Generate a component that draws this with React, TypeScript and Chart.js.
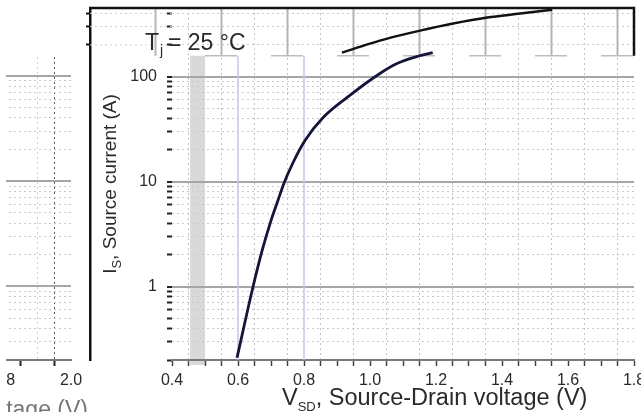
import React, { useEffect, useRef } from "react";
import { Chart, registerables } from "chart.js";
Chart.register(...registerables);

// ---- data ----
const VSD = [0.597, 0.645, 0.673, 0.7, 0.721, 0.739, 0.767, 0.803, 0.858, 0.93, 1.03, 1.082, 1.142, 1.19];
const IS = [0.21, 0.98, 2.2, 4.25, 6.6, 9.6, 15.2, 24.6, 40.7, 63, 107, 133, 155, 169];
const UPPER_V = [0.915, 1.0, 1.052, 1.152, 1.252, 1.355, 1.455, 1.552];
const UPPER_I = [169, 206, 230, 274, 320, 365, 398, 434];

const X_TICK_LABELS = [0.4, 0.6, 0.8, 1.0, 1.2, 1.4, 1.6, 1.8];
const Y_TICK_LABELS = [1, 10, 100];
const Y_GRID = [
  0.2, 0.3, 0.4, 0.5, 0.6, 0.7, 0.8, 0.9,
  1, 2, 3, 4, 5, 6, 7, 8, 9,
  10, 20, 30, 40, 50, 60, 70, 80, 90,
  100, 200, 300, 400,
];
const Y_TOP_TICKS = [200, 300, 400];
const LEFT_X_TICK_LABELS = [1.8, 2.0];
const TOP_GRID_V = [0.35, 0.55, 0.75, 0.95, 1.15, 1.35, 1.55, 1.75];
const BLUE_LINES_V = [0.6, 0.8];
const BAND_V = [0.455, 0.5];
const TOP_BAND_I = 158;

const X_MIN = 0.4, X_MAX = 1.8, Y_MIN = 0.2, Y_MAX = 450;
const FONT = "'Liberation Sans', Arial, sans-serif";
const TEXT = "#2a2a2a";

const isDecade = (v: number) => Math.abs(Math.log10(v) - Math.round(Math.log10(v))) < 1e-9;

const mainDecor = {
  id: "mainDecor",
  beforeDraw(chart: any) {
    const { ctx, chartArea: a, scales } = chart;
    const x = scales.x, y = scales.y;
    ctx.save();
    const bx0 = x.getPixelForValue(BAND_V[0]);
    const bx1 = x.getPixelForValue(BAND_V[1]);
    const by0 = y.getPixelForValue(TOP_BAND_I);
    ctx.fillStyle = "#d9d9d9";
    ctx.fillRect(bx0, by0, bx1 - bx0, a.bottom + 5 - by0);
    ctx.restore();
  },
  beforeDatasetsDraw(chart: any) {
    const { ctx, chartArea: a, scales } = chart;
    const x = scales.x, y = scales.y, y2 = scales.y2;
    const yb = y.getPixelForValue(TOP_BAND_I);
    ctx.save();
    ctx.strokeStyle = "#c4c4ee";
    ctx.lineWidth = 1.5;
    BLUE_LINES_V.forEach((v) => {
      const px = x.getPixelForValue(v);
      ctx.beginPath();
      ctx.moveTo(px, yb);
      ctx.lineTo(px, a.bottom);
      ctx.stroke();
    });
    ctx.strokeStyle = "#b4b4b4";
    ctx.lineWidth = 2;
    TOP_GRID_V.forEach((v) => {
      const px = x.getPixelForValue(v);
      ctx.beginPath();
      ctx.moveTo(px, a.top);
      ctx.lineTo(px, yb);
      ctx.stroke();
    });
    ctx.strokeStyle = "#cfcfcf";
    ctx.lineWidth = 1;
    ctx.setLineDash([2, 3]);
    Y_TOP_TICKS.forEach((v) => {
      const py = y.getPixelForValue(v);
      ctx.beginPath();
      ctx.moveTo(y2.right, py);
      ctx.lineTo(a.left, py);
      ctx.stroke();
    });
    ctx.strokeStyle = "#bdbdbd";
    ctx.lineWidth = 1.5;
    ctx.setLineDash([32, 34]);
    ctx.beginPath();
    ctx.moveTo(x.getPixelForValue(BAND_V[1]), yb);
    ctx.lineTo(a.right, yb);
    ctx.stroke();
    ctx.setLineDash([]);
    ctx.strokeStyle = "#111";
    ctx.lineWidth = 2.5;
    ctx.beginPath();
    ctx.moveTo(y2.right - 1, a.top);
    ctx.lineTo(a.right, a.top);
    ctx.lineTo(a.right, yb);
    ctx.stroke();
    ctx.restore();
  },
  afterDraw(chart: any) {
    const { ctx, chartArea: a } = chart;
    ctx.save();
    ctx.fillStyle = TEXT;
    ctx.textBaseline = "alphabetic";
    ctx.textAlign = "left";
    // T_j = 25 °C
    const tx = a.left - 27, ty = a.top + 42;
    ctx.font = `23px ${FONT}`;
    ctx.fillText("T", tx, ty);
    const tw = ctx.measureText("T").width;
    ctx.font = `14px ${FONT}`;
    ctx.fillText("j", tx + tw + 1, ty + 5);
    ctx.font = `23px ${FONT}`;
    ctx.fillText("= 25 \u00B0C", tx + 23, ty);

    // Y title
    const cy = (a.top + a.bottom) / 2;
    ctx.translate(a.left - 56, cy);
    ctx.rotate(-Math.PI / 2);
    ctx.font = `19px ${FONT}`;
    const w1 = ctx.measureText("I").width;
    const rest = ", Source current (A)";
    const w3 = ctx.measureText(rest).width;
    ctx.font = `13px ${FONT}`;
    const w2 = ctx.measureText("S").width;
    let sx = -(w1 + w2 + w3) / 2;
    ctx.font = `19px ${FONT}`;
    ctx.fillText("I", sx, 0);
    sx += w1;
    ctx.font = `13px ${FONT}`;
    ctx.fillText("S", sx, 5);
    sx += w2;
    ctx.font = `19px ${FONT}`;
    ctx.fillText(rest, sx, 0);
    ctx.setTransform(1, 0, 0, 1, 0, 0);

    // X title
    let xx = a.left + 110;
    const xy = a.bottom + 45;
    ctx.font = `23.5px ${FONT}`;
    ctx.fillText("V", xx, xy);
    xx += ctx.measureText("V").width;
    ctx.font = `13px ${FONT}`;
    ctx.fillText("SD", xx, xy + 6);
    xx += ctx.measureText("SD").width;
    ctx.font = `23.5px ${FONT}`;
    ctx.fillText(", Source-Drain voltage (V)", xx, xy);
    ctx.restore();
  },
};

const leftDecor = {
  id: "leftDecor",
  afterDraw(chart: any) {
    const { ctx, chartArea: a } = chart;
    ctx.save();
    ctx.fillStyle = "#777";
    ctx.font = `23px ${FONT}`;
    ctx.textAlign = "right";
    ctx.fillText("Source-Drain voltage (V)", a.right + 17, a.bottom + 57);
    ctx.restore();
  },
};

const yGridColor = (c: any) => (c.tick && isDecade(c.tick.value) ? "#a6a6a6" : "#cacaca");
const yGridWidth = (c: any) => (c.tick && isDecade(c.tick.value) ? 2 : 1);
const yGridDash = (c: any) => (c.tick && !isDecade(c.tick.value) ? [2, 3] : []);

export default function App() {
  const mainRef = useRef<HTMLCanvasElement>(null);
  const leftRef = useRef<HTMLCanvasElement>(null);

  useEffect(() => {
    const main = new Chart(mainRef.current as HTMLCanvasElement, {
      type: "line",
      data: {
        datasets: [
          {
            data: VSD.map((v, i) => ({ x: v, y: IS[i] })),
            borderColor: "#15153a",
            borderWidth: 2.8,
            pointRadius: 0,
            cubicInterpolationMode: "monotone",
          },
          {
            data: UPPER_V.map((v, i) => ({ x: v, y: UPPER_I[i] })),
            borderColor: "#111",
            borderWidth: 2.5,
            pointRadius: 0,
            cubicInterpolationMode: "monotone",
          },
        ],
      },
      options: {
        responsive: false,
        animation: false,
        devicePixelRatio: 1,
        layout: { padding: { top: 8, right: 7, bottom: 0, left: 0 } },
        plugins: { legend: { display: false }, tooltip: { enabled: false } },
        scales: {
          x: {
            type: "linear",
            min: X_MIN,
            max: X_MAX,
            ticks: {
              stepSize: 0.05,
              autoSkip: false,
              maxRotation: 0,
              padding: 5,
              color: TEXT,
              font: { family: FONT, size: 16 },
              callback: (v: any) => {
                const n = Number(v);
                return X_TICK_LABELS.some((t) => Math.abs(t - n) < 1e-6) ? n.toFixed(1) : "";
              },
            },
            grid: {
              color: (c: any) => (c.tick && Math.round(c.tick.value * 20) % 2 === 1 ? "#c4c4c4" : "rgba(0,0,0,0)"),
              lineWidth: 1,
              tickLength: 6,
              tickColor: "#444",
              tickWidth: 1.5,
            },
            border: { display: true, color: "#7a7a7a", width: 2, dash: (c: any) => (c.tick ? [2, 3] : []) },
            afterFit: (s: any) => {
              s.height = 52;
              s.paddingLeft = 0;
              s.paddingRight = 0;
            },
          },
          y: {
            type: "logarithmic",
            position: "left",
            weight: 0,
            min: Y_MIN,
            max: Y_MAX,
            afterBuildTicks: (s: any) => {
              s.ticks = Y_GRID.map((v) => ({ value: v, major: isDecade(v) }));
            },
            ticks: {
              autoSkip: false,
              padding: 10,
              color: TEXT,
              font: { family: FONT, size: 16 },
              callback: (v: any) => (Y_TICK_LABELS.includes(Number(v)) ? String(v) : ""),
            },
            grid: {
              color: yGridColor,
              lineWidth: yGridWidth,
              tickLength: 5,
              tickColor: "#222",
              tickWidth: 2,
            },
            border: { display: false, dash: yGridDash },
            afterFit: (s: any) => {
              s.width = 82;
              s.paddingTop = 0;
              s.paddingBottom = 0;
            },
          },
          y2: {
            type: "logarithmic",
            position: "left",
            weight: 1,
            min: Y_MIN,
            max: Y_MAX,
            afterBuildTicks: (s: any) => {
              s.ticks = Y_TOP_TICKS.map((v) => ({ value: v }));
            },
            ticks: { display: false },
            grid: { drawOnChartArea: false, tickLength: 4, tickColor: "#111", tickWidth: 2 },
            border: { display: true, color: "#111", width: 2.5 },
            afterFit: (s: any) => {
              s.width = 90;
              s.paddingTop = 0;
              s.paddingBottom = 0;
            },
          },
        },
      },
      plugins: [mainDecor],
    } as any);

    const left = new Chart(leftRef.current as HTMLCanvasElement, {
      type: "line",
      data: { datasets: [{ data: [], pointRadius: 0 }] },
      options: {
        responsive: false,
        animation: false,
        devicePixelRatio: 1,
        layout: { padding: { top: 57, right: 25, bottom: 0, left: 38 } },
        plugins: { legend: { display: false }, tooltip: { enabled: false } },
        scales: {
          x: {
            type: "linear",
            min: 1.8,
            max: 2.0,
            ticks: {
              stepSize: 0.05,
              autoSkip: false,
              maxRotation: 0,
              padding: 5,
              color: TEXT,
              font: { family: FONT, size: 16 },
              callback: (v: any) => {
                const n = Number(v);
                return LEFT_X_TICK_LABELS.some((t) => Math.abs(t - n) < 1e-6) ? n.toFixed(1) : "";
              },
            },
            grid: {
              color: (c: any) => {
                if (!c.tick) return "rgba(0,0,0,0)";
                const k = Math.round(c.tick.value * 20);
                if (k === 38) return "#d6d6a8";
                if (k === 39) return "#555";
                return "rgba(0,0,0,0)";
              },
              lineWidth: 1,
              tickLength: 6,
              tickColor: (c: any) => (c.tick && Math.round(c.tick.value * 20) % 2 === 1 ? "#222" : "rgba(0,0,0,0)"),
              tickWidth: 2,
            },
            border: { display: true, color: "#7a7a7a", width: 2, dash: (c: any) => (c.tick ? [2, 3] : []) },
            afterFit: (s: any) => {
              s.height = 52;
              s.paddingLeft = 0;
              s.paddingRight = 0;
            },
          },
          y: {
            type: "logarithmic",
            min: Y_MIN,
            max: 151.7,
            afterBuildTicks: (s: any) => {
              s.ticks = Y_GRID.filter((v) => v <= 150).map((v) => ({ value: v }));
            },
            ticks: { display: false },
            grid: { color: yGridColor, lineWidth: yGridWidth, drawTicks: false },
            border: { display: false, dash: yGridDash },
            afterFit: (s: any) => {
              s.width = 0;
              s.paddingTop = 0;
              s.paddingBottom = 0;
            },
          },
        },
      },
      plugins: [leftDecor],
    } as any);

    return () => {
      main.destroy();
      left.destroy();
    };
  }, []);

  return (
    <div style={{ position: "fixed", left: 0, top: 0, width: 641, height: 412, background: "#fff", overflow: "hidden" }}>
      <canvas
        ref={mainRef}
        width={641}
        height={412}
        style={{ position: "absolute", left: 0, top: 0, width: 641, height: 412 }}
      />
      <div style={{ position: "absolute", left: 6, top: 0, width: 82, height: 412, overflow: "hidden" }}>
        <canvas
          ref={leftRef}
          width={130}
          height={412}
          style={{ position: "absolute", left: -40, top: 0, width: 130, height: 412 }}
        />
      </div>
    </div>
  );
}
